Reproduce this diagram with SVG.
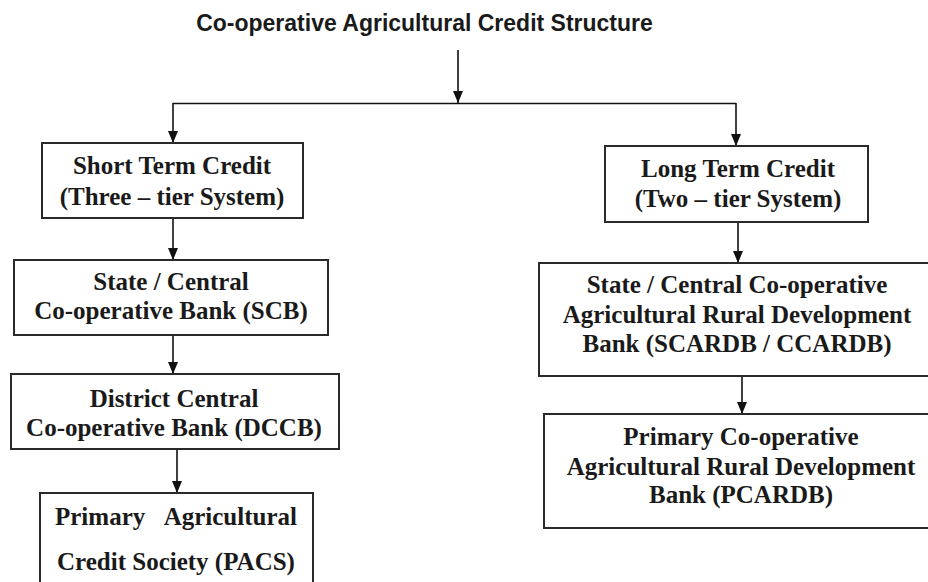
<svg xmlns="http://www.w3.org/2000/svg" width="928" height="582" viewBox="0 0 928 582">
<style>
.bg{fill:#ffffff}
.box{fill:#ffffff;stroke:#2a2a2a;stroke-width:2}
.t{font-family:"Liberation Serif","Times New Roman",serif;font-weight:bold;font-size:25px;fill:#1a1a1a;text-anchor:middle}
.title{font-family:"Liberation Sans",Arial,sans-serif;font-weight:bold;font-size:23px;fill:#1a1a1a;text-anchor:middle}
.c{fill:none;stroke:#111111;stroke-width:1.6}
</style>
<defs>
<marker id="ah" viewBox="0 0 12 10" refX="12" refY="5" markerWidth="12" markerHeight="10" markerUnits="userSpaceOnUse" orient="auto">
<path d="M0,0 L12,5 L0,10 z" fill="#111111"/>
</marker>
</defs>
<rect class="bg" x="0" y="0" width="928" height="582"/>
<g id="title">
<text class="title" x="424.5" y="31">Co-operative Agricultural Credit Structure</text>
</g>
<g id="connectors">
<line class="c" x1="458" y1="50" x2="458" y2="103" marker-end="url(#ah)"/>
<line class="c" x1="173" y1="103.5" x2="736" y2="103.5"/>
<line class="c" x1="173" y1="103" x2="173" y2="143" marker-end="url(#ah)"/>
<line class="c" x1="736" y1="103" x2="736" y2="146" marker-end="url(#ah)"/>
<line class="c" x1="173" y1="218" x2="173" y2="260" marker-end="url(#ah)"/>
<line class="c" x1="173" y1="335" x2="173" y2="374" marker-end="url(#ah)"/>
<line class="c" x1="177" y1="449" x2="177" y2="493" marker-end="url(#ah)"/>
<line class="c" x1="738" y1="222" x2="738" y2="263" marker-end="url(#ah)"/>
<line class="c" x1="742" y1="376" x2="742" y2="414" marker-end="url(#ah)"/>
</g>
<g id="short-term">
<rect class="box" x="42" y="143" width="261" height="75"/>
<text class="t" x="172" y="174">Short Term Credit</text>
<text class="t" x="172" y="205">(Three – tier System)</text>
</g>
<g id="long-term">
<rect class="box" x="605" y="146" width="263" height="76"/>
<text class="t" x="738" y="177">Long Term Credit</text>
<text class="t" x="738" y="207">(Two – tier System)</text>
</g>
<g id="scb">
<rect class="box" x="14" y="260" width="314" height="75"/>
<text class="t" x="171" y="290">State / Central</text>
<text class="t" x="171" y="319">Co-operative Bank (SCB)</text>
</g>
<g id="dccb">
<rect class="box" x="11" y="374" width="328" height="75"/>
<text class="t" x="174" y="407">District Central</text>
<text class="t" x="174" y="436">Co-operative Bank (DCCB)</text>
</g>
<g id="pacs">
<rect class="box" x="40" y="493" width="273" height="100"/>
<text class="t" x="55" y="525" style="text-anchor:start">Primary</text>
<text class="t" x="297" y="525" style="text-anchor:end">Agricultural</text>
<text class="t" x="176" y="570">Credit Society (PACS)</text>
</g>
<g id="scardb">
<rect class="box" x="539" y="263" width="392" height="113"/>
<text class="t" x="737" y="293">State / Central Co-operative</text>
<text class="t" x="737" y="323">Agricultural Rural Development</text>
<text class="t" x="737" y="352">Bank (SCARDB / CCARDB)</text>
</g>
<g id="pcardb">
<rect class="box" x="544" y="414" width="387" height="114"/>
<text class="t" x="741" y="445">Primary Co-operative</text>
<text class="t" x="741" y="475">Agricultural Rural Development</text>
<text class="t" x="741" y="503">Bank (PCARDB)</text>
</g>
</svg>
